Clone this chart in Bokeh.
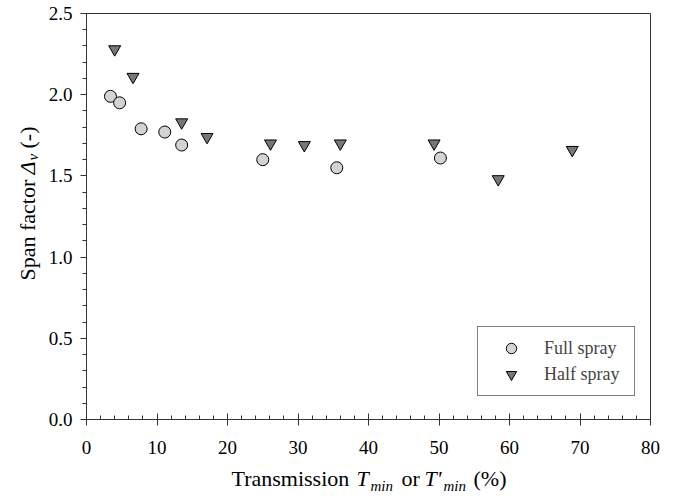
import numpy as np
from bokeh.plotting import figure
from bokeh.layouts import row, column
from bokeh.models import (Range1d, Legend, LegendItem, SingleIntervalTicker,
                          PrintfTickFormatter)
from bokeh.core.properties import value
from bokeh.embed import file_html
from bokeh.resources import INLINE

# ---- data ----
full_x = [3.4, 4.7, 7.75, 11.1, 13.5, 25.0, 35.5, 50.2]
full_y = [1.99, 1.95, 1.79, 1.77, 1.69, 1.60, 1.55, 1.61]
half_x = [4.0, 6.6, 13.5, 17.1, 26.1, 30.9, 36.0, 49.3, 58.4, 68.9]
half_y = [2.28, 2.11, 1.83, 1.74, 1.70, 1.69, 1.70, 1.70, 1.48, 1.66]
series_names = ["Full spray", "Half spray"]

FONT = "Liberation Serif"
W, H = 677, 498
YL_W = 44          # width of the strip holding the y-axis title
XL_H = 36          # height of the strip holding the x-axis title
PW, PH = W - YL_W, H - XL_H
FL, FR, FT, FB = 86, 650, 13, 419   # frame edges on the page

# ---- main chart ----
p = figure(width=PW, height=PH, output_backend="svg", toolbar_location=None,
           x_range=Range1d(0, 80), y_range=Range1d(0, 2.5),
           min_border_left=FL - YL_W, min_border_right=W - FR,
           min_border_top=FT, min_border_bottom=PH - FB)
p.background_fill_color = "white"
p.border_fill_color = "white"
p.xgrid.visible = False
p.ygrid.visible = False
p.outline_line_color = "#333333"
p.outline_line_width = 1

xa = p.xaxis[0]
xa.ticker = SingleIntervalTicker(interval=10, num_minor_ticks=5)
xa.formatter = PrintfTickFormatter(format="%d")
xa.major_tick_in = 6
xa.major_tick_out = 6
xa.minor_tick_in = 4
xa.minor_tick_out = 0
xa.major_label_standoff = 15

ya = p.yaxis[0]
ya.ticker = SingleIntervalTicker(interval=0.5, num_minor_ticks=5)
ya.formatter = PrintfTickFormatter(format="%.1f")
ya.major_tick_in = 0
ya.major_tick_out = 6
ya.minor_tick_in = 0
ya.minor_tick_out = 4
ya.major_label_standoff = 8

for ax in (xa, ya):
    ax.axis_line_color = "#333333"
    ax.major_tick_line_color = "#333333"
    ax.minor_tick_line_color = "#333333"
    ax.major_label_text_font = FONT
    ax.major_label_text_font_size = "19px"
    ax.major_label_text_color = "black"

r_full = p.scatter(full_x, full_y, marker="circle", size=12,
                   fill_color="#d3d3d3", line_color="black", line_width=1)
r_half = p.scatter(half_x, half_y, marker="inverted_triangle", size=12,
                   fill_color="#777777", line_color="black", line_width=1)

legend = Legend(items=[LegendItem(label=series_names[0], renderers=[r_full]),
                       LegendItem(label=series_names[1], renderers=[r_half])],
                location=(391, 23), orientation="vertical",
                border_line_color="black", border_line_width=1,
                background_fill_color="white", background_fill_alpha=1,
                padding=8, spacing=0, margin=0,
                glyph_width=50, glyph_height=26, label_standoff=8,
                label_text_font=FONT, label_text_font_size="18px",
                label_height=26, label_width=82)
p.add_layout(legend)


def text_strip(w, h, bl, br, bt, bb, xr, yr):
    f = figure(width=w, height=h, output_backend="svg", toolbar_location=None,
               x_range=Range1d(*xr), y_range=Range1d(*yr),
               x_axis_location=None, y_axis_location=None,
               min_border=0, min_border_left=bl, min_border_right=br,
               min_border_top=bt, min_border_bottom=bb)
    f.xgrid.visible = False
    f.ygrid.visible = False
    f.outline_line_color = None
    f.background_fill_color = "white"
    f.border_fill_color = "white"
    return f


def put(f, x, y, txt, size, style="normal", angle=0.0):
    f.text(x=[x], y=[y], text=[txt], text_font=value(FONT),
           text_font_size=value(f"{size}px"), text_font_style=style,
           text_color="black", text_align="left", text_baseline="alphabetic",
           angle=angle)


# ---- x-axis title strip: x in page pixels, y = page pixels counted up from the page bottom
xl = text_strip(W, XL_H, FL, W - FR, 0, 0, (FL, FR), (0, XL_H))
def xput(cx, cy, txt, size, style="normal"):
    put(xl, cx, H - cy, txt, size, style)

DY = 8   # baseline correction
xput(231, 486 - DY, "Transmission", 22)
xput(356, 486 - DY, "T", 22, "italic")
xput(370, 493 - DY, "min", 15, "italic")
xput(401, 486 - DY, "or", 22)
xput(424, 486 - DY, "T'", 22, "italic")
xput(443, 493 - DY, "min", 15, "italic")
xput(473, 486 - DY, "(%)", 22)

# ---- y-axis title strip: frame matches the chart frame vertically
yl = text_strip(YL_W, PH, 0, 0, FT, PH - FB, (0, YL_W), (PH - FB, PH - FT))
a = np.pi / 2
def yput(cx, cy, txt, size, style="normal"):
    put(yl, cx, PH - cy, txt, size, style, angle=a)

DX = 8
yput(35 - DX, 280, "Span factor", 22)
yput(35 - DX, 174, "Δ", 22, "italic")
yput(40 - DX, 160, "ν", 15, "italic")
yput(35 - DX, 148, "(-)", 22)

layout = column(row(yl, p, spacing=0), xl, spacing=0)

open("out.html", "w").write(file_html(layout, INLINE))
